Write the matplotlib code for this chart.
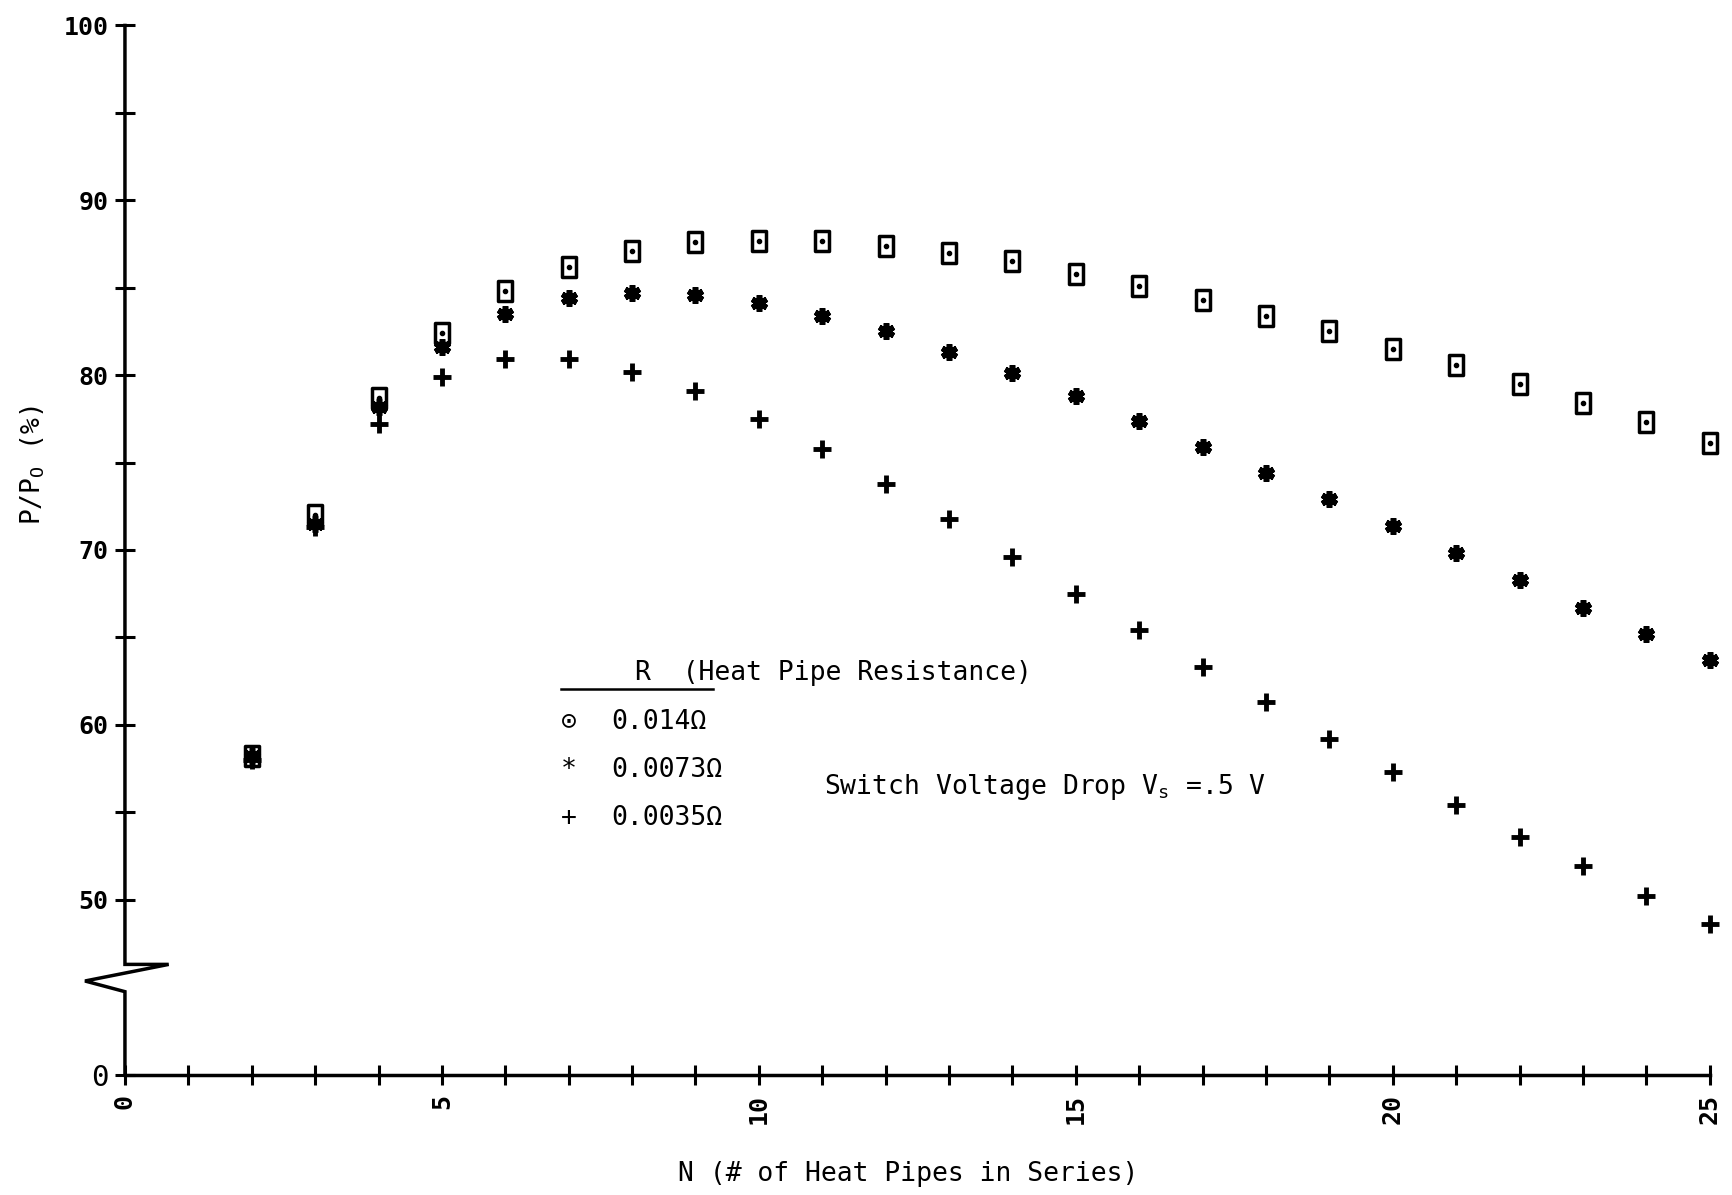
import numpy as np
import matplotlib
matplotlib.use('Agg')
import matplotlib.pyplot as plt
from matplotlib.path import Path

plt.rcParams['font.family'] = ['DejaVu Sans Mono', 'DejaVu Sans']

# N (number of heat pipes in series)
n_pipes = np.arange(2, 26)

# P/Po (%) for each heat pipe resistance
r_0014 = [58.2, 72.0, 78.7, 82.4, 84.8, 86.2, 87.1, 87.6, 87.7, 87.7, 87.4, 87.0,
          86.5, 85.8, 85.1, 84.3, 83.4, 82.5, 81.5, 80.6, 79.5, 78.4, 77.3, 76.1]
r_0073 = [58.2, 71.5, 78.2, 81.6, 83.5, 84.4, 84.7, 84.6, 84.1, 83.4, 82.5, 81.3,
          80.1, 78.8, 77.4, 75.9, 74.4, 72.9, 71.4, 69.8, 68.3, 66.7, 65.2, 63.7]
r_0035 = [58.0, 71.3, 77.2, 79.9, 80.9, 80.9, 80.2, 79.1, 77.5, 75.8, 73.8, 71.8,
          69.6, 67.5, 65.4, 63.3, 61.3, 59.2, 57.3, 55.4, 53.6, 51.9, 50.2, 48.6]

legend_rows = [('\u2299', '0.014\u03a9'), ('*', '0.0073\u03a9'), ('+', '0.0035\u03a9')]

# y axis is broken: the "0" tick sits where 40 would be
y_ticks = [40, 50, 55, 60, 65, 70, 75, 80, 85, 90, 95, 100]
y_labels = ['0', '50', '', '60', '', '70', '', '80', '', '90', '', '100']
x_ticks = list(range(0, 26))
x_labels = [str(v) if v % 5 == 0 else '' for v in x_ticks]

fig = plt.figure(figsize=(17.33, 11.95), dpi=100)
ax = fig.add_axes([0.0721, 0.1008, 0.9145, 0.8779])
ax.set_xlim(0, 25)
ax.set_ylim(40, 100)

for s in ['top', 'right', 'left']:
    ax.spines[s].set_visible(False)
ax.spines['bottom'].set_linewidth(2.5)

# y axis line with the zig-zag break
ax.plot([0, 0, 0.69, -0.63, 0, 0], [100, 46.3, 46.3, 45.35, 44.74, 40],
        color='black', lw=2.5, clip_on=False, solid_joinstyle='miter')

ax.set_yticks(y_ticks)
ax.set_yticklabels(y_labels)
ax.set_xticks(x_ticks)
ax.set_xticklabels(x_labels, rotation=90)
ax.tick_params(axis='both', direction='inout', length=14, width=2.2, color='black')
ax.tick_params(axis='y', pad=5)
ax.tick_params(axis='x', pad=7)
for lab in ax.get_yticklabels() + ax.get_xticklabels():
    lab.set_fontweight('bold')
    lab.set_fontsize(18)
ax.get_yticklabels()[0].set_fontweight('normal')
ax.get_yticklabels()[0].set_fontsize(21)

# markers
box = Path([(-0.35, -0.5), (0.35, -0.5), (0.35, 0.5), (-0.35, 0.5), (-0.35, -0.5)],
           [Path.MOVETO, Path.LINETO, Path.LINETO, Path.LINETO, Path.CLOSEPOLY])
ax.plot(n_pipes, r_0014, linestyle='none', marker=box, markersize=15,
        markerfacecolor='none', markeredgecolor='black', markeredgewidth=2.5,
        clip_on=False)
ax.plot(n_pipes, r_0014, linestyle='none', marker='o', markersize=3,
        color='black', clip_on=False)
ax.plot(n_pipes, r_0073, linestyle='none', marker=(6, 2, 0), markersize=12,
        markeredgewidth=4, color='black', clip_on=False)
ax.plot(n_pipes, r_0035, linestyle='none', marker='+', markersize=13,
        markeredgewidth=3.5, color='black', clip_on=False)

# legend block
ax.text(8.05, 62.97, 'R  (Heat Pipe Resistance)', fontsize=19, va='center', ha='left')
ax.plot([6.88, 9.27], [62.05, 62.05], color='black', lw=1.8)
for i, (sym, val) in enumerate(legend_rows):
    yy = [60.19, 57.4, 54.7][i]
    ax.text(7.0, yy, sym, fontsize=19, va='center', ha='center')
    ax.text(7.67, yy, val, fontsize=19, va='center', ha='left')

ax.text(11.02, 56.45, r'Switch Voltage Drop V$_\mathregular{s}$ =.5 V', fontsize=19,
        va='center', ha='left')

fig.text(0.524, 0.0176, 'N (# of Heat Pipes in Series)', fontsize=19,
         ha='center', va='center')
fig.text(0.019, 0.611, r'P/P$_\mathregular{O}$ (%)', fontsize=19, rotation=90,
         ha='center', va='center')

fig.savefig('out.png', dpi=100)
